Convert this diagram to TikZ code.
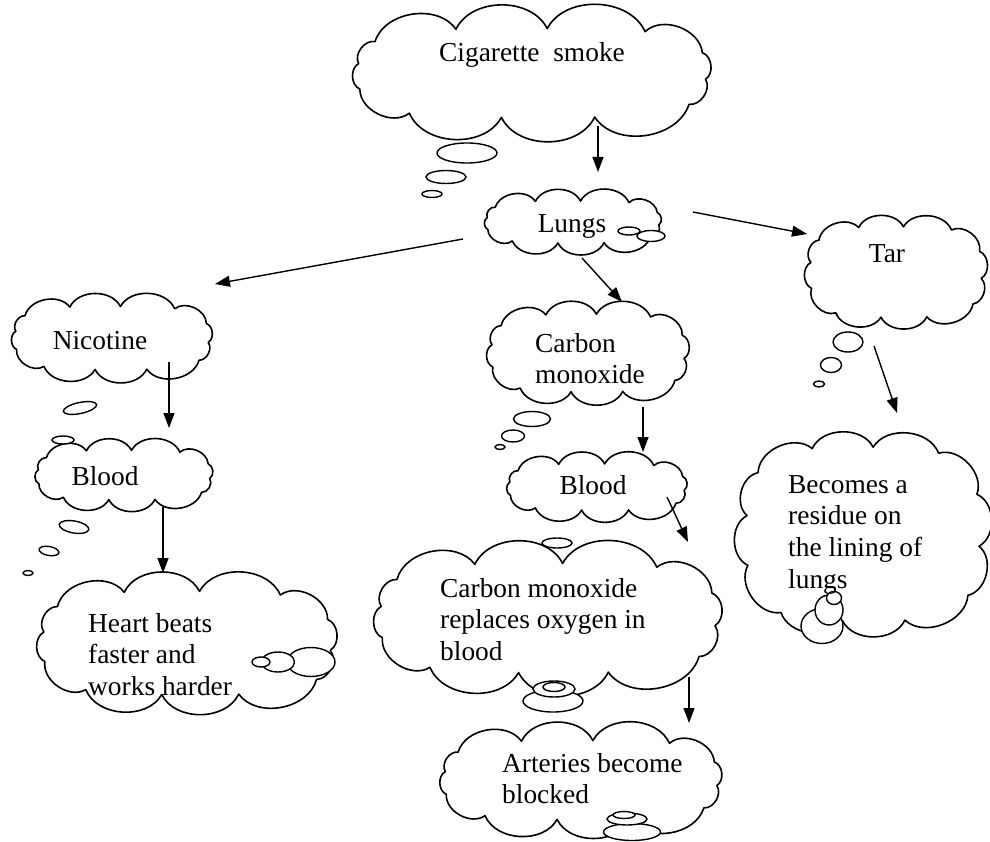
\documentclass[tikz,border=0pt]{standalone}
\usepackage{fontspec}
\setmainfont{Liberation Serif}
\usetikzlibrary{arrows.meta}

% A cloud: an invisible named node plus a ring of puffs laid on a
% superellipse that fills the node's box.
% #1 name, #2 #3 centre, #4 width, #5 height
\newcommand\puffcloud[5]{%
  \node[inner sep=0pt, minimum width=#4pt, minimum height=#5pt] (#1) at (#2,#3) {};
  \pgfmathsetmacro\cldA{#4/2-0.013*(#4+#5)}%
  \pgfmathsetmacro\cldB{#5/2-0.042*(#4+#5)}%
  \draw[cloudline] ({#2+\cldA*sex(8)},{#3+\cldB*sey(8)})
    foreach \t in {38,70,100,128,160,192,218,246,275,305,335,368}
    { to[bend left=64] ({#2+\cldA*sex(\t)},{#3+\cldB*sey(\t)}) } -- cycle;
}

\begin{document}
\begin{tikzpicture}[x=1pt,y=-1pt,
  declare function={
    sep=3.5;
    sen(\t)=exp(ln(exp(sep*ln(abs(cos(\t))))+exp(sep*ln(abs(sin(\t)))))/sep);
    sex(\t)=cos(\t)/sen(\t);
    sey(\t)=sin(\t)/sen(\t);},
  cloudline/.style={draw, line width=1.6pt, line join=round},
  bubble/.style={draw, line width=1.4pt, fill=white},
  words/.style={font=\fontsize{27.4}{31.7}\selectfont, align=left, inner sep=0pt},
  flow/.style={line width=1.4pt, -{Triangle[length=15pt,width=11pt]}}]
\useasboundingbox (0,0) rectangle (990,842);

% clouds
\puffcloud{smoke}{532}{73}{360}{130}
\puffcloud{lungs}{573}{222}{178}{62}
\puffcloud{tar}{896}{272}{178}{115}
\puffcloud{nic}{112}{338}{200}{87}
\puffcloud{bloodA}{124}{475}{178}{70}
\puffcloud{heart}{187}{643}{298}{140}
\puffcloud{co}{588}{353}{200}{103}
\puffcloud{bloodB}{597}{487}{181}{67}
\puffcloud{coRep}{548}{618}{347}{151}
\puffcloud{art}{581}{780}{282}{112}
\puffcloud{residue}{863}{534}{244}{212}

% thought bubbles
\draw[bubble] (467,153) ellipse [x radius=30, y radius=10];
\draw[bubble] (446,177) ellipse [x radius=20, y radius=6.5];
\draw[bubble] (432,194) ellipse [x radius=10, y radius=3.5];

\draw[bubble] (651,236) ellipse [x radius=14, y radius=5.5];
\draw[bubble] (629,231) ellipse [x radius=11, y radius=4];

\draw[bubble] (848,342) ellipse [x radius=15, y radius=10];
\draw[bubble] (831,365) ellipse [x radius=10.5, y radius=7.5];
\draw[bubble] (819,384) ellipse [x radius=5.5, y radius=3];

\draw[bubble, rotate around={12:(80,408)}] (80,408) ellipse [x radius=17, y radius=5.5];
\draw[bubble] (63,440) ellipse [x radius=11, y radius=4];

\draw[bubble, rotate around={-10:(74,527)}] (74,527) ellipse [x radius=15, y radius=6];
\draw[bubble, rotate around={-10:(49,551)}] (49,551) ellipse [x radius=10, y radius=4.5];
\draw[bubble] (28,573) ellipse [x radius=5, y radius=2.5];

\draw[bubble] (311,662) ellipse [x radius=24, y radius=14.5];
\draw[bubble] (278,662) ellipse [x radius=16.5, y radius=10];
\draw[bubble] (261,662) ellipse [x radius=9, y radius=5];

\draw[bubble] (532,419) ellipse [x radius=18.5, y radius=7.5];
\draw[bubble] (513,436) ellipse [x radius=11.5, y radius=6];
\draw[bubble] (500,447) ellipse [x radius=5, y radius=2.5];

\draw[bubble] (557,543) ellipse [x radius=15, y radius=5];

\draw[bubble] (553,701) ellipse [x radius=30, y radius=11];
\draw[bubble] (554,689) ellipse [x radius=21, y radius=8];
\draw[bubble] (554,687) ellipse [x radius=11, y radius=4.5];

\draw[bubble] (632,832) ellipse [x radius=28.5, y radius=8.5];
\draw[bubble] (627,819) ellipse [x radius=20, y radius=6];
\draw[bubble] (624,815) ellipse [x radius=11, y radius=3.5];

\draw[bubble] (822,626) ellipse [x radius=21, y radius=17.5];
\draw[bubble] (829,610) ellipse [x radius=14, y radius=15];
\draw[bubble] (834,598) ellipse [x radius=7.5, y radius=6.5];

% labels (multi-line labels sit on the baseline of their last line)
\node[words, anchor=base] (tSmoke) at (532,62) {Cigarette~ smoke};
\node[words, anchor=base] (tLungs) at (572,233) {Lungs};
\node[words, anchor=base] (tTar) at (887,262) {Tar};
\node[words, anchor=base] (tNic) at (100,349) {Nicotine};
\node[words, anchor=base] (tBloodA) at (105,485) {Blood};
\node[words, anchor=base west] (tHeart) at (88,695.4) {Heart beats\\faster and\\works harder};
\node[words, anchor=base west] (tCo) at (535,383.7) {Carbon\\monoxide};
\node[words, anchor=base] (tBloodB) at (593,494) {Blood};
\node[words, anchor=base west] (tCoRep) at (440,660.4) {Carbon monoxide\\replaces oxygen in\\blood};
\node[words, anchor=base west] (tArt) at (502,803.7) {Arteries become\\blocked};
\node[words, anchor=base west] (tRes) at (788,588.1) {Becomes a\\residue on\\the lining of\\lungs};

% connector ends
\coordinate (a1s) at (598,126); \coordinate (a1e) at (598,172);
\coordinate (a2s) at (693,212); \coordinate (a2e) at (807,234);
\coordinate (a3s) at (463,239); \coordinate (a3e) at (215,284);
\coordinate (a4s) at (582,258); \coordinate (a4e) at (622,302);
\coordinate (a5s) at (169,362); \coordinate (a5e) at (169,428);
\coordinate (a6s) at (163,507); \coordinate (a6e) at (163,573);
\coordinate (a7s) at (643,407); \coordinate (a7e) at (643,452);
\coordinate (a8s) at (667,497); \coordinate (a8e) at (688,542);
\coordinate (a9s) at (689,677); \coordinate (a9e) at (689,723);
\coordinate (a10s) at (874,346); \coordinate (a10e) at (897,413);

% arrows
\draw[flow] (a1s) -- (a1e);
\draw[flow] (a2s) -- (a2e);
\draw[flow] (a3s) -- (a3e);
\draw[flow] (a4s) -- (a4e);
\draw[flow] (a5s) -- (a5e);
\draw[flow] (a6s) -- (a6e);
\draw[flow] (a7s) -- (a7e);
\draw[flow] (a8s) -- (a8e);
\draw[flow] (a9s) -- (a9e);
\draw[flow] (a10s) -- (a10e);
\end{tikzpicture}
\end{document}
